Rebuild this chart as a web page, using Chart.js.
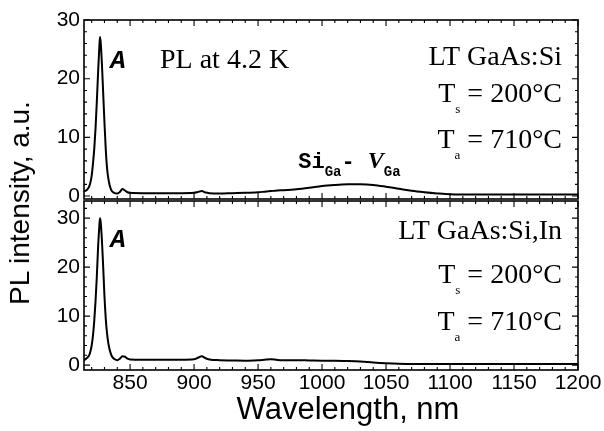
<!DOCTYPE html>
<html>
<head>
<meta charset="utf-8">
<script src="https://cdn.jsdelivr.net/npm/chart.js@4.4.1/dist/chart.umd.min.js"></script>
<style>
  html, body { margin: 0; padding: 0; background: #fff; }
  #wrap { position: relative; width: 604px; height: 431px; overflow: hidden; }
  #topBox { position: absolute; left: 0; top: 0; width: 604px; height: 215px; }
  #bottomBox { position: absolute; left: 0; top: 200px; width: 604px; height: 231px; }
  #yTitle {
    position: absolute; left: 20px; top: 203px;
    transform: translate(-50%, -50%) rotate(-90deg);
    font: 28px "Liberation Sans", Arial, sans-serif; line-height: 28px;
    white-space: nowrap; color: #000;
  }
  #xTitle {
    position: absolute; left: 348px; top: 393px;
    transform: translateX(-50%);
    font: 31px "Liberation Sans", Arial, sans-serif; line-height: 31px;
    white-space: nowrap; color: #000;
  }
</style>
</head>
<body>
<div id="wrap">
  <div id="topBox"><canvas id="topChart"></canvas></div>
  <div id="bottomBox"><canvas id="bottomChart"></canvas></div>
  <div id="yTitle">PL intensity, a.u.</div>
  <div id="xTitle">Wavelength, nm</div>
</div>
<script>
// Wavelength grid (nm), shared by both spectra
const wavelengths = [814, 816, 818, 819, 820, 821, 822, 823, 824, 825,
  826, 826.5, 827, 828, 829, 830, 831, 832, 833, 834,
  835, 836, 838, 840, 842, 844, 846, 848, 850, 860,
  870, 880, 890, 900, 903, 906, 909, 912, 920, 930,
  940, 950, 955, 960, 965, 970, 980, 990, 1000, 1010,
  1020, 1030, 1040, 1050, 1060, 1070, 1080, 1090, 1100, 1120,
  1140, 1160, 1180, 1200];

// PL intensity, LT GaAs:Si (top panel)
const intensitySi = [0.8, 1.0, 1.6, 2.3, 3.5, 5.5, 8, 11.5, 16, 21,
  25.5, 27.1, 26.3, 22.5, 17.5, 12.5, 8, 4.8, 3, 1.9,
  1.2, 0.8, 0.5, 0.45, 0.7, 1.2, 0.95, 0.65, 0.55, 0.5,
  0.5, 0.5, 0.5, 0.55, 0.7, 0.85, 0.6, 0.5, 0.45, 0.5,
  0.55, 0.65, 0.75, 0.85, 0.95, 1.0, 1.15, 1.4, 1.7, 1.88,
  2.0, 2.02, 1.9, 1.6, 1.25, 0.9, 0.65, 0.45, 0.3, 0.25,
  0.25, 0.25, 0.25, 0.25];

// PL intensity, LT GaAs:Si,In (bottom panel)
const intensitySiIn = [1.0, 1.4, 2.0, 2.8, 4, 6, 9, 13, 18, 24,
  28.5, 30, 29.3, 25.5, 20, 14, 9.5, 6.5, 4.5, 3.2,
  2.3, 1.7, 1.2, 1.0, 1.3, 1.8, 1.7, 1.3, 1.15, 1.1,
  1.1, 1.1, 1.1, 1.2, 1.5, 1.8, 1.4, 1.15, 1.0, 0.95,
  0.9, 1.0, 1.1, 1.2, 1.05, 1.0, 1.0, 0.95, 0.9, 0.9,
  0.85, 0.75, 0.55, 0.4, 0.3, 0.25, 0.25, 0.25, 0.25, 0.25,
  0.25, 0.25, 0.25, 0.25];

// Axis tick values
const xTicks = [850, 900, 950, 1000, 1050, 1100, 1150, 1200];
const yTicks = [0, 10, 20, 30];

const SERIF = '"Liberation Serif", "Times New Roman", serif';
const MONO = '"Liberation Mono", "Courier New", monospace';
const SANS = '"Liberation Sans", Arial, sans-serif';

Chart.defaults.color = '#000';
Chart.defaults.font.family = SANS;

/**
 * Frame around the plot area with inward ticks on all four sides
 */
const framePlugin = {
  id: 'frame',
  afterDatasetsDraw(chart) {
    const { ctx, chartArea: a, scales: { x, y } } = chart;
    ctx.save();
    ctx.strokeStyle = '#000';
    ctx.lineWidth = 1.6;
    ctx.strokeRect(a.left, a.top, a.right - a.left, a.bottom - a.top);
    ctx.lineWidth = 1.1;
    ctx.beginPath();
    for (let v = Math.ceil(x.min / 10) * 10; v <= x.max; v += 10) {
      const px = x.getPixelForValue(v);
      const len = v % 50 === 0 ? 6 : 3;
      ctx.moveTo(px, a.bottom); ctx.lineTo(px, a.bottom - len);
      ctx.moveTo(px, a.top); ctx.lineTo(px, a.top + len);
    }
    for (let v = 0; v <= y.max; v += 2) {
      const py = y.getPixelForValue(v);
      const len = v % 10 === 0 ? 6 : 3;
      ctx.moveTo(a.left, py); ctx.lineTo(a.left + len, py);
      ctx.moveTo(a.right, py); ctx.lineTo(a.right - len, py);
    }
    ctx.stroke();
    ctx.restore();
  }
};

/**
 * Text notes placed at data coordinates; each note is a list of runs
 * (sub/superscripts are separate runs with their own font and offset)
 */
const notesPlugin = {
  id: 'notes',
  afterDraw(chart, args, opts) {
    const { ctx, scales: { x, y } } = chart;
    ctx.save();
    ctx.fillStyle = '#000';
    ctx.textBaseline = 'alphabetic';
    ctx.textAlign = 'left';
    (opts.items || []).forEach(item => {
      let total = 0;
      item.runs.forEach(r => { ctx.font = r.font; total += ctx.measureText(r.text).width; });
      let px = x.getPixelForValue(item.x);
      const py = y.getPixelForValue(item.y);
      if (item.align === 'right') px -= total;
      if (item.align === 'center') px -= total / 2;
      item.runs.forEach(r => {
        ctx.font = r.font;
        ctx.fillText(r.text, px, py + (r.dy || 0));
        px += ctx.measureText(r.text).width;
      });
    });
    ctx.restore();
  }
};

function tempRuns(sub, value) {
  return [
    { text: 'T', font: '28px ' + SERIF },
    { text: sub, font: '13px ' + SERIF, dy: 11 },
    { text: ' = ' + value + '°C', font: '28px ' + SERIF }
  ];
}

function buildChart(canvasId, values, cfg) {
  const points = wavelengths.map((w, i) => ({ x: w, y: values[i] }));
  return new Chart(document.getElementById(canvasId).getContext('2d'), {
    type: 'line',
    data: {
      datasets: [{
        data: points,
        borderColor: '#000',
        borderWidth: 2,
        pointRadius: 0,
        cubicInterpolationMode: 'monotone',
        fill: false
      }]
    },
    options: {
      responsive: true,
      maintainAspectRatio: false,
      animation: false,
      devicePixelRatio: 1,
      layout: { padding: cfg.padding },
      plugins: {
        legend: { display: false },
        tooltip: { enabled: false },
        notes: { items: cfg.notes }
      },
      scales: {
        x: {
          type: 'linear',
          min: 814,
          max: 1200,
          display: cfg.showX,
          grid: { display: false, drawTicks: false },
          border: { display: false },
          afterBuildTicks: axis => { axis.ticks = xTicks.map(v => ({ value: v })); },
          afterFit: axis => {
            axis.paddingLeft = 0; axis.paddingRight = 0;
            if (cfg.showX) axis.height = 61;
          },
          ticks: {
            padding: 1, font: { size: 21 }, color: '#000', maxRotation: 0,
            callback: v => String(v)
          }
        },
        y: {
          min: cfg.yMin,
          max: cfg.yMax,
          grid: { display: false, drawTicks: false },
          border: { display: false },
          afterBuildTicks: axis => { axis.ticks = yTicks.map(v => ({ value: v })); },
          afterFit: axis => { axis.width = 84; axis.paddingTop = 0; axis.paddingBottom = 0; },
          ticks: { padding: 4, font: { size: 21 }, color: '#000', callback: v => String(v) }
        }
      }
    },
    plugins: [framePlugin, notesPlugin]
  });
}

document.addEventListener('DOMContentLoaded', function() {
  // Top panel: LT GaAs:Si
  buildChart('topChart', intensitySi, {
    yMin: -0.5, yMax: 30, showX: false,
    padding: { left: 0, top: 20, right: 26, bottom: 16 },
    notes: [
      { x: 840.6, y: 21.8, align: 'center', runs: [{ text: 'A', font: 'bold italic 26px ' + MONO }] },
      { x: 873.4, y: 21.8, align: 'left', runs: [{ text: 'PL at 4.2 K', font: '28px ' + SERIF }] },
      { x: 1187.5, y: 22.3, align: 'right', runs: [{ text: 'LT GaAs:Si', font: '28px ' + SERIF }] },
      { x: 1187.5, y: 16.0, align: 'right', runs: tempRuns('s', 200) },
      { x: 1187.5, y: 8.2, align: 'right', runs: tempRuns('a', 710) },
      { x: 981.4, y: 4.72, align: 'left', runs: [
        { text: 'Si', font: 'bold 22px ' + MONO },
        { text: 'Ga', font: 'bold 14px ' + MONO, dy: 8 },
        { text: '- ', font: 'bold 22px ' + MONO },
        { text: 'V', font: 'bold italic 24px ' + SERIF },
        { text: 'Ga', font: 'bold 14px ' + MONO, dy: 8 }
      ] }
    ]
  });

  // Bottom panel: LT GaAs:Si,In
  buildChart('bottomChart', intensitySiIn, {
    yMin: -1, yMax: 33.5, showX: true,
    padding: { left: 0, top: 1, right: 26, bottom: 0 },
    notes: [
      { x: 840.6, y: 24.1, align: 'center', runs: [{ text: 'A', font: 'bold italic 26px ' + MONO }] },
      { x: 1187.5, y: 25.65, align: 'right', runs: [{ text: 'LT GaAs:Si,In', font: '28px ' + SERIF }] },
      { x: 1187.5, y: 16.67, align: 'right', runs: tempRuns('s', 200) },
      { x: 1187.5, y: 7.14, align: 'right', runs: tempRuns('a', 710) }
    ]
  });
});
</script>
</body>
</html>
